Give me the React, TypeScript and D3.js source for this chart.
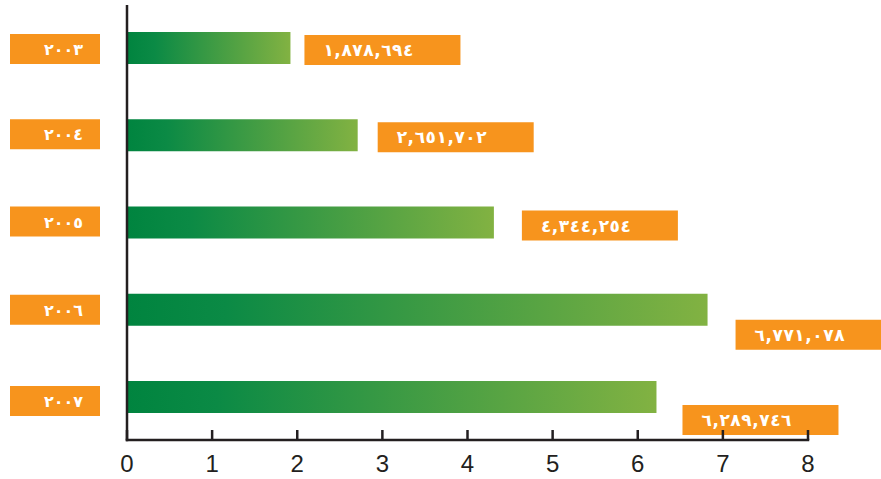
import React from "react";
import * as d3 from "d3";

const years = ["٢٠٠٣", "٢٠٠٤", "٢٠٠٥", "٢٠٠٦", "٢٠٠٧"];
const values = [1.92, 2.71, 4.31, 6.82, 6.22];
const valueLabels = ["١,٨٧٨,٦٩٤", "٢,٦٥١,٧٠٢", "٤,٣٤٤,٢٥٤", "٦,٧٧١,٠٧٨", "٦,٢٨٩,٧٤٦"];
const xTicks = [0, 1, 2, 3, 4, 5, 6, 7, 8];

// layout offsets for the label boxes (per row)
const valBoxDx = [14, 20, 28, 28, 26];
const valBoxDy = [3, 3, 4, 26, 24];
const yearBoxDy = [2, 0, 0, 1, 5];

const W = 881;
const H = 479;
const ORANGE = "#f7941d";
const AXIS = "#231f20";

export default function App() {
  const x = d3.scaleLinear().domain([0, 8]).range([127, 808]);
  const y = d3.scalePoint<string>().domain(years).range([48, 397]);
  const barH = 32;
  const boxH = 30;
  const boxW = 156;
  const axisY = 440;

  return (
    <svg
      width={W}
      height={H}
      style={{ position: "absolute", left: 0, top: 0, background: "#fff" }}
    >
      <defs>
        <linearGradient id="barGrad" x1="0" x2="1" y1="0" y2="0">
          <stop offset="0" stopColor="#00843f" />
          <stop offset="0.17" stopColor="#0b8a45" />
          <stop offset="1" stopColor="#82b242" />
        </linearGradient>
      </defs>

      {years.map((yr, i) => {
        const cy = y(yr)!;
        const top = cy - barH / 2;
        const end = x(values[i]);
        const vbx = end + valBoxDx[i];
        const vby = top + valBoxDy[i];
        const ybTop = top + yearBoxDy[i];
        return (
          <g key={yr}>
            <rect x={x(0)} y={top} width={end - x(0)} height={barH} fill="url(#barGrad)" />
            <rect x={10} y={ybTop} width={90} height={boxH} fill={ORANGE} />
            <text
              x={83}
              y={ybTop + boxH / 2 + 6}
              textAnchor="end"
              fill="#fff"
              fontFamily="DejaVu Sans"
              fontWeight="bold"
              fontSize={16}
            >
              {yr}
            </text>
            <rect x={vbx} y={vby} width={boxW} height={boxH} fill={ORANGE} />
            <text
              x={vbx + 19}
              y={vby + boxH / 2 + 6}
              fill="#fff"
              fontFamily="DejaVu Sans"
              fontWeight="bold"
              fontSize={17}
              textLength={90}
              lengthAdjust="spacing"
            >
              {valueLabels[i]}
            </text>
          </g>
        );
      })}

      {/* axes */}
      <line x1={x(0)} x2={x(0)} y1={5} y2={axisY + 1.25} stroke={AXIS} strokeWidth={2.5} />
      <line x1={x(0) - 1.25} x2={x(8) + 1.25} y1={axisY} y2={axisY} stroke={AXIS} strokeWidth={2.5} />
      {xTicks.map((t) => (
        <g key={t}>
          <line x1={x(t)} x2={x(t)} y1={axisY - 10} y2={axisY} stroke={AXIS} strokeWidth={2.5} />
          <text
            x={x(t)}
            y={472}
            textAnchor="middle"
            fill={AXIS}
            fontFamily="Liberation Sans, Arial, sans-serif"
            fontSize={24}
          >
            {t}
          </text>
        </g>
      ))}
    </svg>
  );
}
